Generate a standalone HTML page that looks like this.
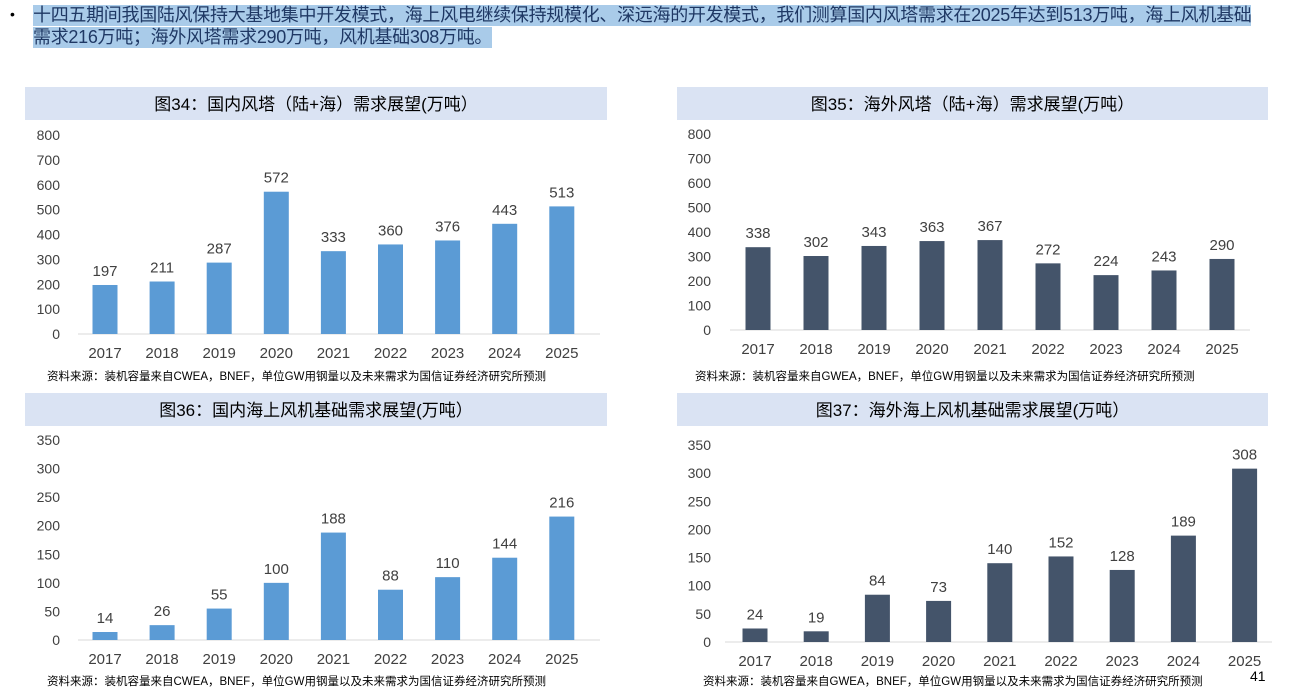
<!DOCTYPE html>
<html><head><meta charset="utf-8">
<style>
body{margin:0;width:1290px;height:695px;background:#fff;overflow:hidden;font-family:"Liberation Sans","Noto Sans CJK SC",sans-serif;position:relative}
.t{position:absolute;left:33px;font-size:18px;color:#1f3864;background:#a9cbe9;white-space:nowrap;line-height:21px;letter-spacing:-0.3px}
.bullet{position:absolute;left:10px;top:6px;font-size:14px}
svg{position:absolute;left:0;top:0}
</style></head><body>
<div class="bullet">•</div>
<div class="t" style="top:5px">十四五期间我国陆风保持大基地集中开发模式，海上风电继续保持规模化、深远海的开发模式，我们测算国内风塔需求在2025年达到513万吨，海上风机基础</div>
<div class="t" style="top:27px">需求216万吨；海外风塔需求290万吨，风机基础308万吨。</div>
<svg id="s" width="1290" height="695"></svg>
<script>
const years=["2017","2018","2019","2020","2021","2022","2023","2024","2025"];
const v34=[197,211,287,572,333,360,376,443,513];
const v35=[338,302,343,363,367,272,224,243,290];
const v36=[14,26,55,100,188,88,110,144,216];
const v37=[24,19,84,73,140,152,128,189,308];
const t34=[0,100,200,300,400,500,600,700,800];
const t35=[0,100,200,300,400,500,600,700,800];
const t36=[0,50,100,150,200,250,300,350];
const t37=[0,50,100,150,200,250,300,350];
const NS="http://www.w3.org/2000/svg";
const svg=document.getElementById('s');
function mk(tag,attrs,txt){const e=document.createElementNS(NS,tag);for(const k in attrs)e.setAttribute(k,attrs[k]);if(txt!==undefined)e.textContent=txt;svg.appendChild(e);return e;}
function chart(c){
  const b=mk('rect',{x:c.bx,y:c.by,width:c.bw,height:33,fill:'#dae3f3'});
  
  
  const tt=mk('text',{x:c.bx+c.bw/2,y:c.by+23,'font-size':17,'text-anchor':'middle',fill:'#000'},c.title);
  
  
  const max=c.ticks[c.ticks.length-1];
  const yS=v=>c.y0-(v/max)*(c.y0-c.yTop);
  const xS=i=>c.x0+i*c.step;
  c.ticks.forEach(t=>{
    const e=mk('text',{x:c.tx,y:yS(t)+5,'font-size':14,'text-anchor':'end',fill:'#404040'},t);
    
    
  });
  const ax=mk('line',{x1:c.ax1,x2:c.ax2,y1:c.y0,y2:c.y0,stroke:'#d9d9d9','stroke-width':1});
  
  
  c.vals.forEach((v,i)=>{
    const r=mk('rect',{x:xS(i)-12.5,y:yS(v),width:25,height:c.y0-yS(v),fill:c.color});
    
    
    const l=mk('text',{x:xS(i),y:yS(v)-9,'font-size':15,'text-anchor':'middle',fill:'#404040'},v);
    
    
    const yl=mk('text',{x:xS(i),y:c.y0+24,'font-size':15,'text-anchor':'middle',fill:'#404040'},years[i]);
    
    
  });
  const s=mk('text',{x:c.sx,y:c.sy,'font-size':11.5,fill:'#000'},c.src);
  
  
}
const srcA="资料来源：装机容量来自CWEA，BNEF，单位GW用钢量以及未来需求为国信证券经济研究所预测";
const srcB="资料来源：装机容量来自GWEA，BNEF，单位GW用钢量以及未来需求为国信证券经济研究所预测";
chart({bx:25,by:87,bw:582,title:"图34：国内风塔（陆+海）需求展望(万吨）",ticks:t34,vals:v34,y0:334,yTop:135,x0:105,step:57.1,tx:60,ax1:78,ax2:600,color:'#5b9bd5',sx:47,sy:380,src:srcA});
chart({bx:677,by:87,bw:591,title:"图35：海外风塔（陆+海）需求展望(万吨）",ticks:t35,vals:v35,y0:330,yTop:134,x0:758,step:58,tx:711,ax1:730,ax2:1250,color:'#44546a',sx:695,sy:380,src:srcB});
chart({bx:25,by:393,bw:582,title:"图36：国内海上风机基础需求展望(万吨）",ticks:t36,vals:v36,y0:640,yTop:440,x0:105,step:57.1,tx:60,ax1:78,ax2:600,color:'#5b9bd5',sx:47,sy:685,src:srcA});
chart({bx:677,by:393,bw:591,title:"图37：海外海上风机基础需求展望(万吨）",ticks:t37,vals:v37,y0:642,yTop:445,x0:755,step:61.2,tx:711,ax1:725,ax2:1272,color:'#44546a',sx:703,sy:685,src:srcB});
const pn=mk('text',{x:1250,y:681,'font-size':14,fill:'#000'},"41");


</script>
</body></html>
